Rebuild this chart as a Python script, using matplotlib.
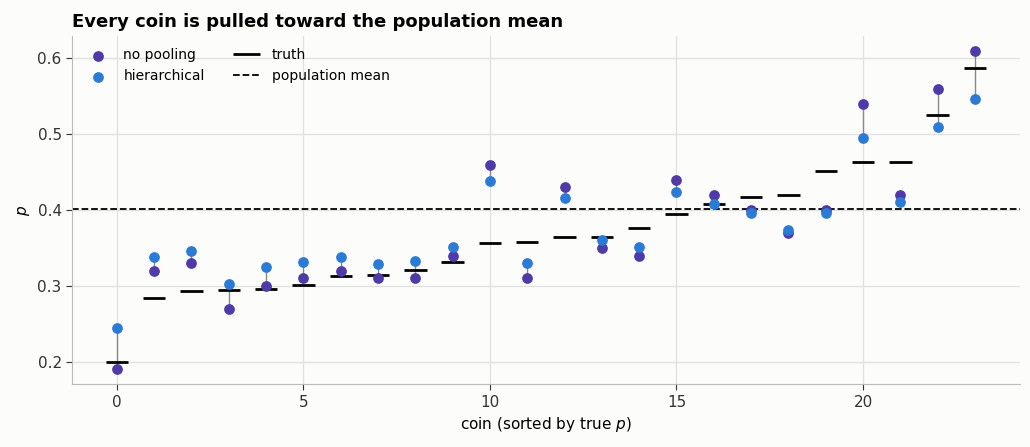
import matplotlib
matplotlib.use("Agg")
import matplotlib.pyplot as plt
import numpy as np

coins = list(range(24))
truth = [0.200,0.284,0.293,0.295,0.296,0.301,0.313,0.314,0.321,0.331,0.357,0.358,0.365,0.364,0.376,0.395,0.408,0.417,0.420,0.451,0.463,0.464,0.526,0.587]
no_pool = [0.191,0.320,0.330,0.270,0.300,0.310,0.320,0.310,0.310,0.340,0.459,0.310,0.430,0.350,0.340,0.440,0.420,0.400,0.370,0.400,0.540,0.420,0.560,0.610]
hier = [0.245,0.338,0.346,0.303,0.325,0.332,0.338,0.329,0.333,0.351,0.438,0.330,0.416,0.360,0.351,0.424,0.408,0.396,0.374,0.396,0.495,0.411,0.509,0.546]
pop_mean = 0.401

bg = "#fcfcfa"
fig, ax = plt.subplots(figsize=(10.30, 4.47), dpi=100)
fig.patch.set_facecolor(bg); ax.set_facecolor(bg)
ax.grid(True, color="#e0e0dc", lw=0.9); ax.set_axisbelow(True)
for x, a, b in zip(coins, no_pool, hier):
    ax.plot([x, x], [a, b], color="#888888", lw=1, zorder=1)
ax.hlines(truth, np.array(coins)-0.3, np.array(coins)+0.3, color="black", lw=2, zorder=2, label="truth")
ax.axhline(pop_mean, color="black", ls="--", lw=1.3, label="population mean")
ax.scatter(coins, no_pool, color="#4f3aa8", s=45, zorder=3, label="no pooling")
ax.scatter(coins, hier, color="#2b7bd6", s=45, zorder=4, label="hierarchical")
ax.set_xlim(-1.2, 24.2); ax.set_ylim(0.17, 0.63)
ax.set_xticks([0,5,10,15,20]); ax.set_yticks([0.2,0.3,0.4,0.5,0.6])
ax.set_xlabel("coin (sorted by true $p$)", fontsize=11)
ax.set_ylabel("$p$", fontsize=11)
ax.set_title("Every coin is pulled toward the population mean", loc="left", fontsize=13, fontweight="bold")
for s in ["top","right"]: ax.spines[s].set_visible(False)
for s in ["left","bottom"]: ax.spines[s].set_color("#bbbbbb")
ax.tick_params(colors="#333333", length=4, labelsize=11)
h, l = ax.get_legend_handles_labels()
order = [l.index("no pooling"), l.index("hierarchical"), l.index("truth"), l.index("population mean")]
ax.legend([h[i] for i in order], [l[i] for i in order], ncol=2, frameon=False, loc="upper left", fontsize=10)
fig.subplots_adjust(left=0.07, right=0.99, top=0.92, bottom=0.14)
fig.savefig("out.png", facecolor=bg)
